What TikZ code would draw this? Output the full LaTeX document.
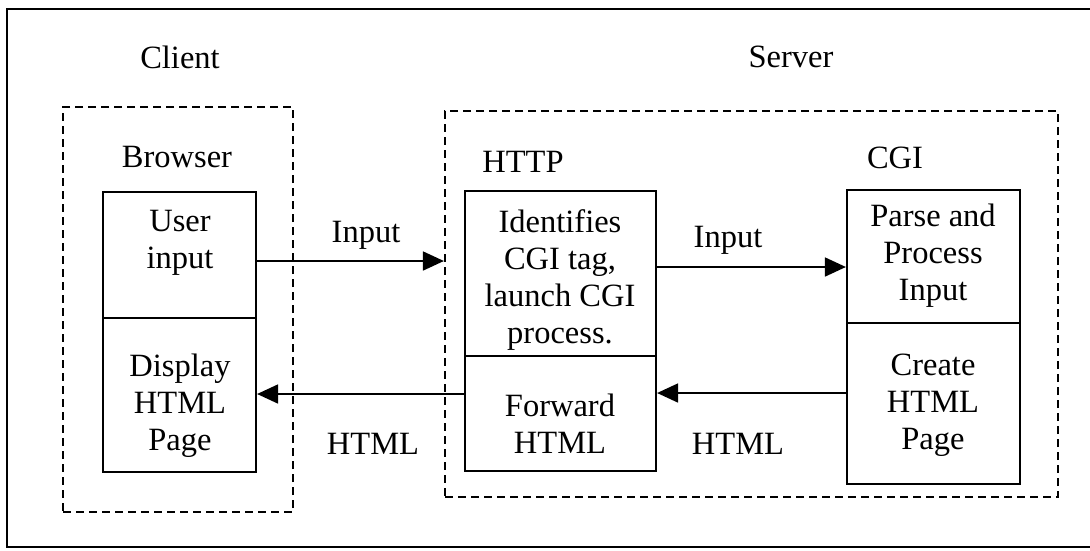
\documentclass[tikz,border=0pt]{standalone}
\usepackage{fontspec}
\setmainfont{Liberation Serif}
\usetikzlibrary{arrows.meta}
\begin{document}
\begin{tikzpicture}[x=1pt,y=-1pt,
  lbl/.style={font=\fontsize{32.5}{37}\selectfont, inner sep=0pt, align=center},
  boxe/.style={draw, line width=2.2pt, inner sep=0pt, minimum width=#1},
  dbox/.style={draw, line width=2.2pt, dash pattern=on 8pt off 5pt, inner sep=0pt},
  conn/.style={line width=1.8pt, -{Triangle[length=21pt,width=19pt]}}
]
\useasboundingbox (0,0) rectangle (1090,550);
\fill[white] (0,0) rectangle (1090,550);
% outer frame (open on right)
\draw[line width=2pt] (1090,9) -- (7,9) -- (7,547) -- (1090,547);

% dashed containers
\node[dbox, minimum width=230pt, minimum height=405pt] (cli) at (178,309.5) {};
\node[dbox, minimum width=613pt, minimum height=386pt] (srv) at (751.5,304) {};

% boxes
\node[boxe=153pt, minimum height=126pt] (ui) at (179.5,255) {};
\node[boxe=153pt, minimum height=154pt] (dp) at (179.5,395) {};
\node[boxe=191pt, minimum height=165pt] (ht) at (560.5,273.5) {};
\node[boxe=191pt, minimum height=115pt] (fw) at (560.5,413.5) {};
\node[boxe=173pt, minimum height=133pt] (cp) at (933.5,256.5) {};
\node[boxe=173pt, minimum height=161pt] (cc) at (933.5,403.5) {};

% titles
\node[lbl] (tcli) at (180,57) {Client};
\node[lbl] (tsrv) at (791,57) {Server};
\node[lbl] (tbro) at (177,157) {Browser};
\node[lbl] (thttp) at (523,162) {HTTP};
\node[lbl] (tcgi) at (895,158) {CGI};

% box texts
\node[lbl] (xui) at (180,243) {User\\input};
\node[lbl] (xdp) at (180,406) {Display\\HTML\\Page};
\node[lbl] (xht) at (560,280) {Identifies\\CGI tag,\\launch CGI\\process.};
\node[lbl] (xfw) at (560,424) {Forward\\HTML};
\node[lbl] (xcp) at (933,256) {Parse and\\Process\\Input};
\node[lbl] (xcc) at (933,405) {Create\\HTML\\Page};

% connector labels
\node[lbl] (li1) at (366,235) {Input};
\node[lbl] (li2) at (728,240) {Input};
\node[lbl] (lh1) at (373,444) {HTML};
\node[lbl] (lh2) at (738,444) {HTML};

% connectors
\draw[conn] (ui.east |- 0,261) -- (srv.west |- 0,261);
\draw[conn] (ht.east |- 0,267) -- (cp.west |- 0,267);
\draw[conn] (cc.west |- 0,393) -- (fw.east |- 0,393);
\draw[conn] (fw.west |- 0,394) -- (dp.east |- 0,394);
\end{tikzpicture}
\end{document}
